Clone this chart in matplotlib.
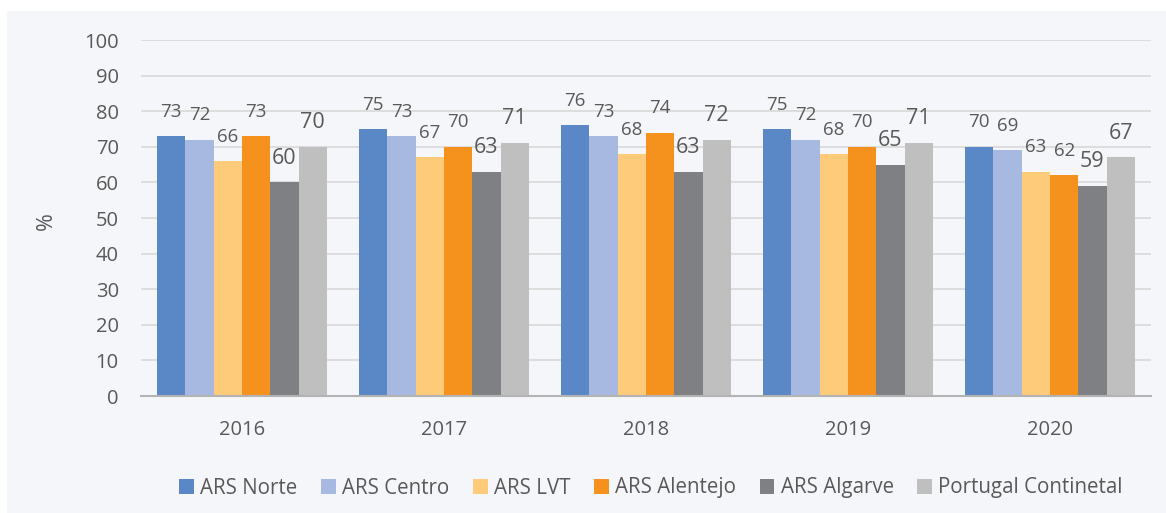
import numpy as np
import matplotlib.pyplot as plt
from matplotlib.patches import Rectangle

plt.rcParams['font.family'] = ['Open Sans', 'DejaVu Sans']

years = ['2016', '2017', '2018', '2019', '2020']
series = ['ARS Norte', 'ARS Centro', 'ARS LVT', 'ARS Alentejo', 'ARS Algarve', 'Portugal Continetal']
norte = [73, 75, 76, 75, 70]
centro = [72, 73, 73, 72, 69]
lvt = [66, 67, 68, 68, 63]
alentejo = [73, 70, 74, 70, 62]
algarve = [60, 63, 63, 65, 59]
portugal = [70, 71, 72, 71, 67]
values = [norte, centro, lvt, alentejo, algarve, portugal]

colors = ['#5a87c5', '#a7b9e0', '#fecb7a', '#f5921e', '#7f8084', '#bfbfbf']
label_sizes = [13.5, 13.5, 13.5, 13.5, 15.5, 15.5]
text_col = '#595959'
bg = '#f5f6fa'

fig = plt.figure(figsize=(11.66, 5.13), dpi=100)
fig.patch.set_facecolor('white')
fig.patches.append(Rectangle((7 / 1166, 0), 1, (513 - 11) / 513, transform=fig.transFigure,
                             facecolor=bg, edgecolor='none', zorder=-10))

ax = fig.add_axes([141 / 1166, (513 - 396) / 513, 1010 / 1166, 356 / 513])
ax.set_facecolor(bg)

x = np.arange(len(years))
w = 0.14
for i, (name, vals) in enumerate(zip(series, values)):
    pos = x + (i - 2.5) * w
    bars = ax.bar(pos, vals, width=w, color=colors[i], label=name, zorder=3, linewidth=0)
    for b, v in zip(bars, vals):
        ax.annotate(str(v), (b.get_x() + b.get_width() / 2, v), xytext=(0, 17.5),
                    textcoords='offset points', ha='center', va='center',
                    fontsize=label_sizes[i], color=text_col)

ax.set_xlim(-0.5, 4.5)
ax.set_ylim(0, 100)
ax.set_yticks(range(0, 101, 10))
ax.set_xticks(x)
ax.set_xticklabels(years)
ax.tick_params(axis='both', length=0, labelsize=14.5, labelcolor=text_col)
ax.tick_params(axis='y', pad=16)
ax.tick_params(axis='x', pad=17)
ax.yaxis.grid(True, color='#d9d9d9', linewidth=1.2, zorder=0)
ax.set_axisbelow(True)
for s in ['top', 'right', 'left']:
    ax.spines[s].set_visible(False)
ax.spines['bottom'].set_color('#b3b3b3')
ax.spines['bottom'].set_linewidth(1.5)
ax.spines['bottom'].set_zorder(4)

ax.set_ylabel('%', fontsize=15.5, color=text_col)
ax.yaxis.set_label_coords(-0.083, 0.49)

fig.legend(loc='center', bbox_to_anchor=(651 / 1166, (513 - 488) / 513), ncol=6,
           frameon=False, fontsize=14.8, labelcolor=text_col, handlelength=0.72,
           handleheight=0.72, handletextpad=0.3, columnspacing=1.15)

fig.savefig('out.png', dpi=100, facecolor=fig.get_facecolor())
